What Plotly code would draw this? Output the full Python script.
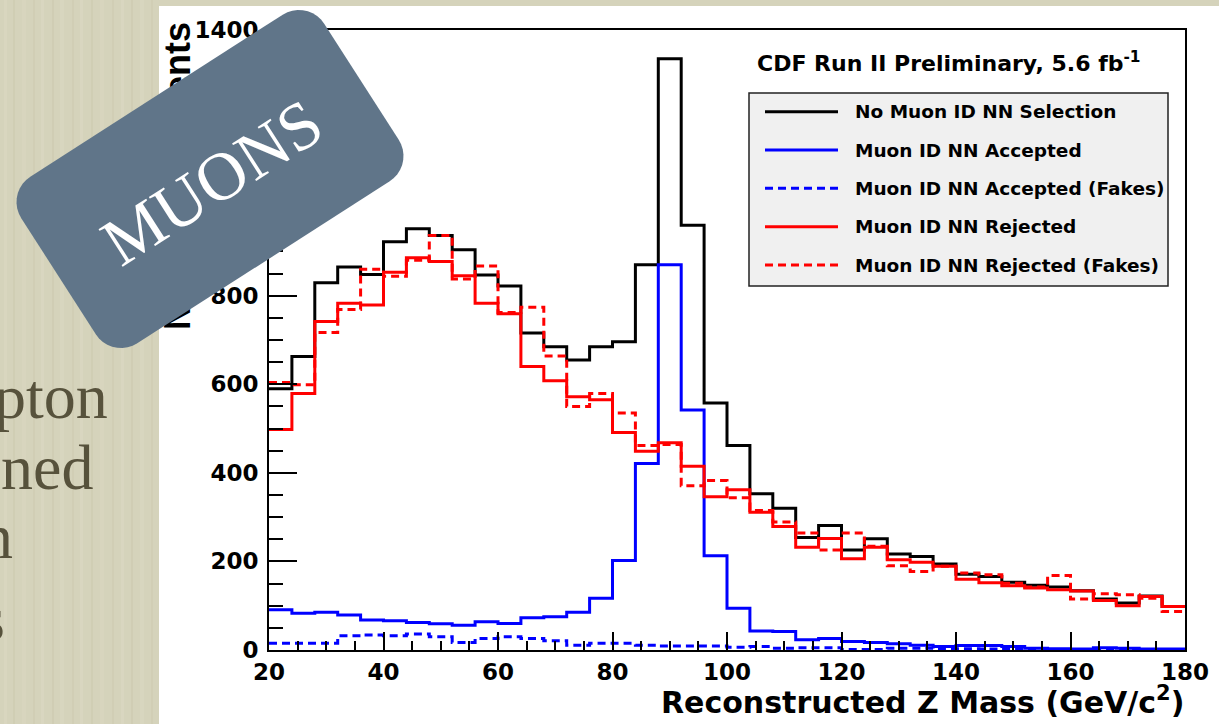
import numpy as np
import plotly.graph_objects as go

# ---------------- data ----------------
bin_edges = list(range(20, 181, 4))  # 40 bins of 4 GeV/c^2

no_selection = [590, 663, 829, 865, 848, 922, 951, 936, 904, 847,
                822, 716, 685, 655, 685, 696, 870, 1335, 959, 558,
                462, 353, 320, 254, 281, 226, 251, 217, 211, 194,
                171, 166, 153, 146, 142, 134, 115, 106, 122, 98]
accepted = [91, 83, 85, 79, 68, 66, 62, 59, 56, 64,
            60, 73, 75, 85, 117, 202, 421, 870, 542, 213,
            94, 43, 42, 23, 26, 19, 17, 14, 11, 8,
            10, 10, 8, 4, 3, 2, 5, 4, 2, 2]
accepted_fakes = [15, 15, 15, 32, 34, 32, 36, 30, 17, 26,
                  30, 26, 21, 11, 15, 15, 11, 9, 9, 9,
                  6, 8, 4, 5, 5, 1, 1, 4, 4, 3,
                  3, 2, 1, 1, 1, 1, 1, 1, 1, 1]
rejected = [498, 579, 742, 783, 779, 853, 886, 877, 845, 783,
            759, 640, 608, 572, 565, 491, 449, 468, 415, 346,
            362, 311, 279, 232, 252, 206, 232, 204, 198, 189,
            160, 152, 145, 140, 136, 133, 112, 100, 121, 98]
rejected_fakes = [604, 599, 717, 769, 860, 844, 880, 936, 838, 867,
                  762, 774, 664, 550, 579, 535, 462, 464, 371, 383,
                  344, 315, 289, 264, 226, 264, 234, 190, 177, 189,
                  174, 170, 151, 142, 168, 115, 127, 125, 117, 87]

series_names = ["No Muon ID NN Selection", "Muon ID NN Accepted",
                "Muon ID NN Accepted (Fakes)", "Muon ID NN Rejected",
                "Muon ID NN Rejected (Fakes)"]
x_tick_vals = [20, 40, 60, 80, 100, 120, 140, 160, 180]
y_tick_vals = [0, 200, 400, 600, 800, 1000, 1200, 1400]
y_title_pos = 1058

# ---------------- styling / geometry ----------------
W_FIG, H_FIG = 1219, 724
L, R, T, B = 269, 1185, 30, 650
PW, PH = R - L, B - T
BEIGE = "#d5d3bb"
SLATE = "#607589"
FONT = "DejaVu Sans"


def px(x):
    return (x - L) / PW


def py(y):
    return (B - y) / PH


styles = [("black", None), ("#0000ff", None), ("#0000ff", "8px,5px"),
          ("#ff0000", None), ("#ff0000", "8px,5px")]
series = [no_selection, accepted, accepted_fakes, rejected, rejected_fakes]

fig = go.Figure()
for i, (vals, name, (col, dash)) in enumerate(zip(series, series_names, styles)):
    fig.add_trace(go.Scatter(
        x=bin_edges, y=vals + [vals[-1]], mode="lines", name=name,
        line=dict(shape="hv", color=col, width=3, dash=dash),
        yaxis="y2" if i == 4 else "y", showlegend=False, hoverinfo="skip"))

shapes = []
# faint vertical grain of the slide background
for sx, sw, sc in [(4, 3, "#dedcc6"), (13, 2, "#c9c7aa"), (22, 4, "#dcdac3"),
                   (33, 2, "#cbc9ad"), (41, 3, "#dfddc8"), (52, 2, "#c8c6a9"),
                   (60, 4, "#dddbc5"), (72, 2, "#cac8ac"), (80, 3, "#dedcc7"),
                   (91, 2, "#c9c7ab"), (100, 4, "#dcdac4"), (112, 2, "#cbc9ad"),
                   (121, 3, "#dfddc8"), (131, 2, "#c8c6a9"), (140, 4, "#dddbc5"),
                   (151, 2, "#cac8ac")]:
    shapes.append(dict(type="rect", xref="paper", yref="paper", layer="below",
                       x0=px(sx), x1=px(sx + sw), y0=py(-5), y1=py(730),
                       fillcolor=sc, opacity=0.4, line=dict(width=0)))
# white slide picture panel
shapes.append(dict(type="rect", xref="paper", yref="paper", layer="below",
                   x0=px(159), x1=px(1225), y0=py(6), y1=py(730),
                   fillcolor="white", line=dict(width=0)))

# legend box
shapes.append(dict(type="rect", xref="paper", yref="paper", layer="above",
                   x0=px(749), x1=px(1168), y0=py(93), y1=py(286),
                   fillcolor="#f0f0f0", line=dict(color="#222222", width=1.5)))
row_y = [111.7, 150, 188.3, 226.7, 265]
annotations = []
for (col, dash), name, ry in zip(styles, series_names, row_y):
    shapes.append(dict(type="line", xref="paper", yref="paper", layer="above",
                       x0=px(765), x1=px(838), y0=py(ry), y1=py(ry),
                       line=dict(color=col, width=3, dash=dash)))
    annotations.append(dict(text=name, xref="paper", yref="paper",
                            x=px(853), y=py(ry), xanchor="left", yanchor="middle",
                            showarrow=False,
                            font=dict(family=FONT, size=18.5, weight="bold", color="black")))

annotations.append(dict(text="CDF Run II Preliminary, 5.6 fb<sup>-1</sup>",
                        xref="paper", yref="paper", x=px(755), y=py(62),
                        xanchor="left", yanchor="middle", showarrow=False,
                        font=dict(family=FONT, size=22, weight="bold", color="black")))
annotations.append(dict(text="Reconstructed Z Mass (GeV/c<sup>2</sup>)",
                        xref="paper", yref="paper", x=px(1186), y=py(700),
                        xanchor="right", yanchor="middle", showarrow=False,
                        font=dict(family=FONT, size=30, weight="bold", color="black")))

# rotated rounded "MUONS" card
cx, cy, a, b, r = 210, 179, 180, 99, 30
th = np.deg2rad(32.7)
pts = []
for (ux, vy, a0) in [(a - r, b - r, 0), (-(a - r), b - r, 90),
                     (-(a - r), -(b - r), 180), (a - r, -(b - r), 270)]:
    for ang in np.linspace(a0, a0 + 90, 10):
        u = ux + r * np.cos(np.deg2rad(ang))
        v = vy + r * np.sin(np.deg2rad(ang))
        X = u * np.cos(th) - v * np.sin(th)
        Y = u * np.sin(th) + v * np.cos(th)
        pts.append((px(cx + X), py(cy - Y)))
path = "M " + " L ".join(f"{x:.5f},{y:.5f}" for x, y in pts) + " Z"
shapes.append(dict(type="path", xref="paper", yref="paper", layer="above",
                   path=path, fillcolor=SLATE, line=dict(width=0)))

annotations.append(dict(text="MUONS", xref="paper", yref="paper",
                        x=px(cx + 2), y=py(cy + 3), xanchor="center", yanchor="middle",
                        textangle=-32.7, showarrow=False,
                        font=dict(family="Liberation Serif", size=68, color="white")))

# partially visible slide text on the left
slide_lines = [("pton", 110, 418), ("ned", 95, 489), ("n", 15, 558), ("s", 7, 640)]
for txt, xr, base in slide_lines:
    annotations.append(dict(text=txt, xref="paper", yref="paper",
                            x=px(xr), y=py(base - 22), xanchor="right", yanchor="middle",
                            showarrow=False,
                            font=dict(family="Liberation Serif", size=64, color="#57523c")))

tickfont = dict(family=FONT, size=23, weight="bold", color="black")
fig.update_layout(
    width=W_FIG, height=H_FIG, template="none",
    margin=dict(l=L, r=W_FIG - R, t=T, b=H_FIG - B, autoexpand=False),
    paper_bgcolor=BEIGE, plot_bgcolor="rgba(0,0,0,0)", showlegend=False,
    xaxis=dict(range=[20, 180], tickvals=x_tick_vals, ticks="inside", ticklen=18,
               tickwidth=1.5, tickcolor="black",
               minor=dict(dtick=5, tick0=20, ticks="inside", ticklen=9,
                          tickwidth=1.5, tickcolor="black", showgrid=False),
               showline=True, linewidth=2, linecolor="black", mirror=True,
               showgrid=False, zeroline=False, tickfont=tickfont, automargin=False),
    yaxis=dict(range=[0, 1400], tickvals=y_tick_vals, ticks="inside", ticklen=28,
               tickwidth=1.5, tickcolor="black",
               minor=dict(dtick=50, tick0=0, ticks="inside", ticklen=14,
                          tickwidth=1.5, tickcolor="black", showgrid=False),
               showline=True, linewidth=2, linecolor="black", mirror=True,
               showgrid=False, zeroline=False, tickfont=tickfont, automargin=False,
               ticklabelstandoff=4),
    yaxis2=dict(range=[0, 1400], overlaying="y", anchor="free", position=0, side="left",
                tickmode="array", tickvals=[y_title_pos], ticktext=["Number of Events"],
                tickangle=-90, ticks="", showgrid=False, zeroline=False, showline=False,
                tickfont=dict(family="Liberation Sans", size=36, weight="bold", color="black"),
                ticklabelstandoff=72, automargin=False),
    shapes=shapes, annotations=annotations,
)
fig.write_html("out.html")
